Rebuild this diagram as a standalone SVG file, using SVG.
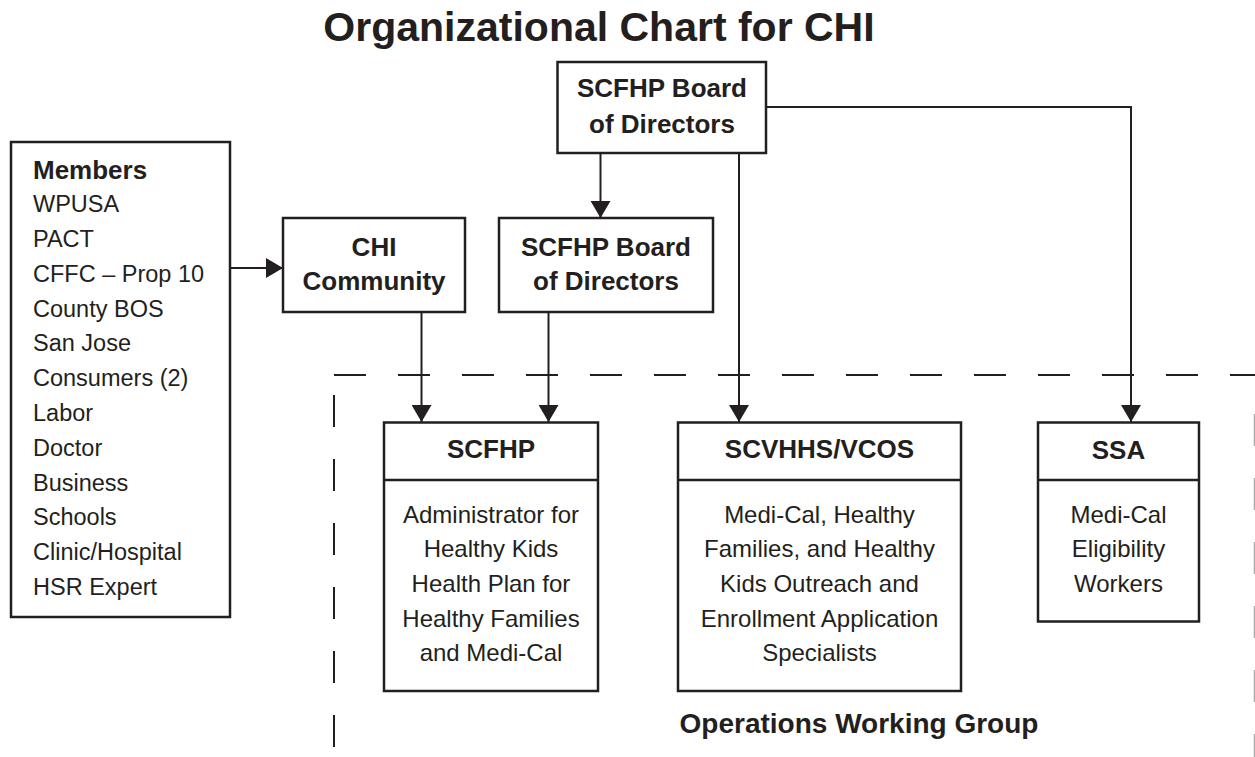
<svg xmlns="http://www.w3.org/2000/svg" width="1255" height="757" viewBox="0 0 1255 757">
  <style>
    .box { fill: #ffffff; stroke: #231f20; stroke-width: 2.5; }
    .rule { stroke: #231f20; stroke-width: 2.5; fill: none; }
    .link { stroke: #231f20; stroke-width: 2; fill: none; }
    .dash { stroke: #231f20; stroke-width: 2; fill: none; stroke-dasharray: 32 32; }
    .title { font-family: "Liberation Sans", Arial, sans-serif; font-weight: bold; font-size: 41px; fill: #231f20; text-anchor: middle; }
    .head { font-family: "Liberation Sans", Arial, sans-serif; font-weight: bold; font-size: 26px; fill: #231f20; text-anchor: middle; }
    .body { font-family: "Liberation Sans", Arial, sans-serif; font-size: 24px; fill: #231f20; text-anchor: middle; }
    .list { font-family: "Liberation Sans", Arial, sans-serif; font-size: 23.5px; fill: #231f20; }
    .listhead { font-family: "Liberation Sans", Arial, sans-serif; font-weight: bold; font-size: 26px; fill: #231f20; }
  </style>
  <defs>
    <marker id="arrow" viewBox="0 0 17 20" refX="17" refY="10" markerWidth="17" markerHeight="20" markerUnits="userSpaceOnUse" orient="auto">
      <path d="M0,0 L17,10 L0,20 Z" fill="#231f20"/>
    </marker>
  </defs>

  <rect width="1255" height="757" fill="#ffffff"/>

  <text class="title" x="599" y="41">Organizational Chart for CHI</text>

  <!-- boundary of the working group -->
  <g id="working-group-boundary">
    <path class="dash" d="M334,375 H1255"/>
    <path class="dash" d="M334,395 V747"/>
    <path d="M1254.5,414 V757" stroke="#a8a8a8" stroke-width="1.5" fill="none" stroke-dasharray="32 32"/>
  </g>

  <!-- connectors -->
  <g id="connectors">
    <path class="link" d="M230,268 H283" marker-end="url(#arrow)"/>
    <path class="link" d="M600.5,153 V218" marker-end="url(#arrow)"/>
    <path class="link" d="M739,153 V422" marker-end="url(#arrow)"/>
    <path class="link" d="M766,107 H1131 V422" marker-end="url(#arrow)"/>
    <path class="link" d="M421.5,312 V422" marker-end="url(#arrow)"/>
    <path class="link" d="M548.5,312 V422" marker-end="url(#arrow)"/>
  </g>

  <g id="board-top">
    <rect class="box" x="557.5" y="62" width="208.5" height="91"/>
    <text class="head" x="662" y="97">SCFHP Board</text>
    <text class="head" x="662" y="133">of Directors</text>
  </g>

  <g id="members">
    <rect class="box" x="11" y="142" width="219" height="475"/>
    <text class="listhead" x="33" y="179">Members</text>
    <text class="list" x="33" y="212">WPUSA</text>
    <text class="list" x="33" y="247">PACT</text>
    <text class="list" x="33" y="282">CFFC – Prop 10</text>
    <text class="list" x="33" y="317">County BOS</text>
    <text class="list" x="33" y="351">San Jose</text>
    <text class="list" x="33" y="386">Consumers (2)</text>
    <text class="list" x="33" y="421">Labor</text>
    <text class="list" x="33" y="456">Doctor</text>
    <text class="list" x="33" y="491">Business</text>
    <text class="list" x="33" y="525">Schools</text>
    <text class="list" x="33" y="560">Clinic/Hospital</text>
    <text class="list" x="33" y="595">HSR Expert</text>
  </g>

  <g id="chi-community">
    <rect class="box" x="283" y="218" width="182" height="94"/>
    <text class="head" x="374" y="256">CHI</text>
    <text class="head" x="374" y="290">Community</text>
  </g>

  <g id="board-second">
    <rect class="box" x="499" y="218" width="214" height="94"/>
    <text class="head" x="606" y="256">SCFHP Board</text>
    <text class="head" x="606" y="290">of Directors</text>
  </g>

  <g id="scfhp">
    <rect class="box" x="384" y="422.5" width="214" height="268.5"/>
    <path class="rule" d="M384,480 H598"/>
    <text class="head" x="491" y="458">SCFHP</text>
    <text class="body" x="491" y="523">Administrator for</text>
    <text class="body" x="491" y="557">Healthy Kids</text>
    <text class="body" x="491" y="592">Health Plan for</text>
    <text class="body" x="491" y="627">Healthy Families</text>
    <text class="body" x="491" y="661">and Medi-Cal</text>
  </g>

  <g id="scvhhs-vcos">
    <rect class="box" x="678" y="422.5" width="283" height="268.5"/>
    <path class="rule" d="M678,480 H961"/>
    <text class="head" x="819.5" y="458">SCVHHS/VCOS</text>
    <text class="body" x="819.5" y="523">Medi-Cal, Healthy</text>
    <text class="body" x="819.5" y="557">Families, and Healthy</text>
    <text class="body" x="819.5" y="592">Kids Outreach and</text>
    <text class="body" x="819.5" y="627">Enrollment Application</text>
    <text class="body" x="819.5" y="661">Specialists</text>
  </g>

  <g id="ssa">
    <rect class="box" x="1038" y="422.5" width="161" height="199"/>
    <path class="rule" d="M1038,480 H1199"/>
    <text class="head" x="1118.5" y="459">SSA</text>
    <text class="body" x="1118.5" y="523">Medi-Cal</text>
    <text class="body" x="1118.5" y="557">Eligibility</text>
    <text class="body" x="1118.5" y="592">Workers</text>
  </g>

  <text class="head" x="859" y="733" style="font-size:28px">Operations Working Group</text>
</svg>
